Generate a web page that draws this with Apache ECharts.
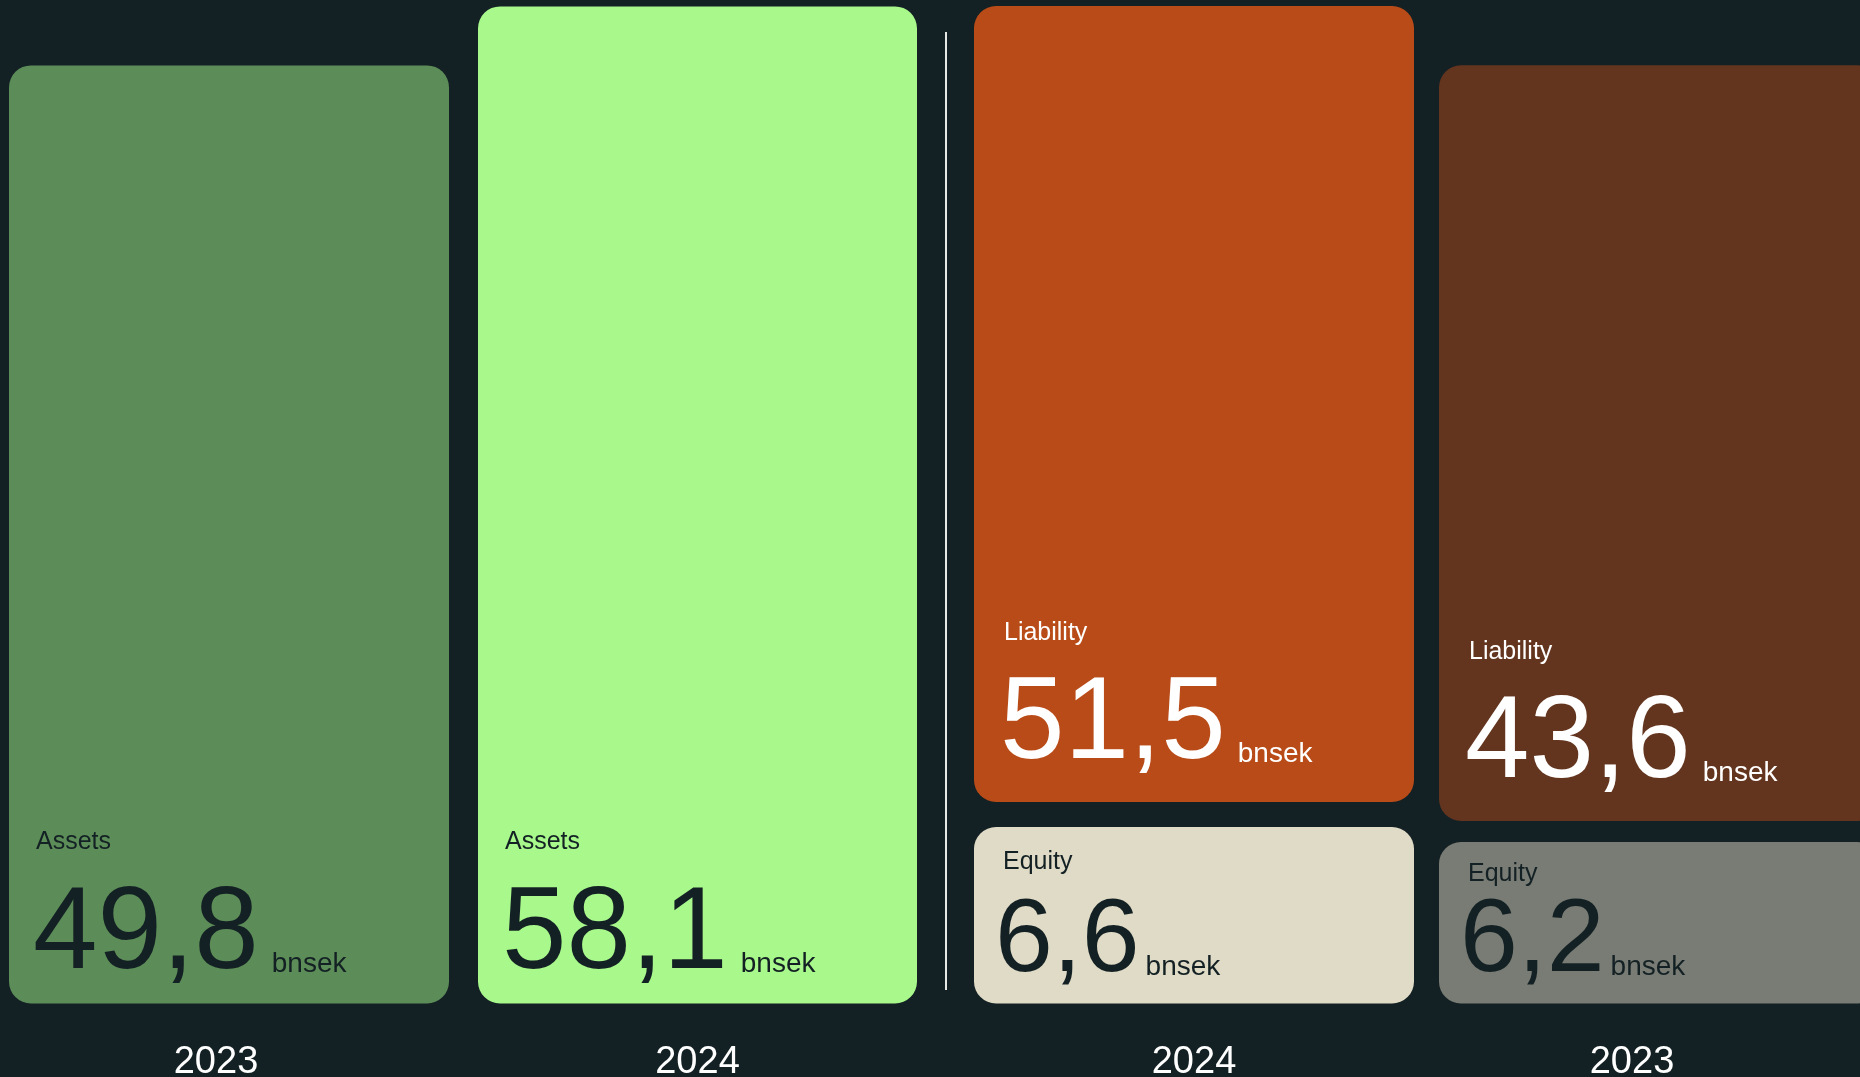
<!DOCTYPE html>
<html style="height: 100%">
<head>
    <meta charset="utf-8">
    <title>Assets, liability and equity</title>
    <style type="text/css">
        html, body { margin: 0; height: 100%; background-color: #142124; }
        #container { width: 1860px; height: 1077px; }
    </style>
</head>
<body>
<div id="container"></div>
<script type="text/javascript" src="https://cdn.jsdelivr.net/npm/echarts@6/dist/echarts.min.js"></script>
<script type="text/javascript">
    // data (bnsek), index 0 = 2023, index 1 = 2024
    var years = ['2023', '2024'];
    var assets = [49.8, 58.1];
    var liability = [43.6, 51.5];
    var equity = [6.2, 6.6];
    var unit = 'bnsek';

    var FONT = '"Liberation Sans", Arial, sans-serif';
    var DARK = '#142124';

    function fmt(v) {
        return v.toFixed(1).replace('.', ',');
    }

    // title on line 1, big value + unit on line 2
    function makeLabel(title, color, vSize, tPad, uPad, offset) {
        return {
            show: true,
            position: 'insideBottomLeft',
            distance: 0,
            offset: offset,
            formatter: function (p) {
                return '{t|' + title + '}\n{v|' + fmt(p.value) + '}{u|' + unit + '}';
            },
            rich: {
                t: { fontSize: 25, color: color, fontFamily: FONT, verticalAlign: 'bottom', padding: tPad },
                v: { fontSize: vSize, color: color, fontFamily: FONT, verticalAlign: 'bottom' },
                u: { fontSize: 28, color: color, fontFamily: FONT, verticalAlign: 'bottom', padding: uPad }
            }
        };
    }

    // one column per grid: assets 2023, assets 2024 | liability 2024, liability 2023, equity 2024, equity 2023
    var grids = [
        { left: 9, top: 0, width: 440, bottom: 73.5 },
        { left: 478, top: 0, width: 439, bottom: 73.5 },
        { left: 974, top: 0, width: 440, bottom: 275 },
        { left: 1439, top: 0, width: 440, bottom: 256 },
        { left: 974, top: 800, width: 440, bottom: 73.5 },
        { left: 1439, top: 800, width: 440, bottom: 73.5 }
    ];
    grids.forEach(function (g) { g.outerBoundsMode = 'none'; });

    var cols = [
        { year: 0, values: assets, color: '#5c8d58', label: makeLabel('Assets', DARK, 116, [0, 0, 24, 3], [0, 0, 16, 13], [24, -9]), yMin: -82.2, yMax: 59, showYear: true, pad: 26 },
        { year: 1, values: assets, color: '#a8f88c', label: makeLabel('Assets', DARK, 116, [0, 0, 24, 3], [0, 0, 16, 13], [24, -9]), yMin: -82.2, yMax: 59, showYear: true, pad: 0 },
        { year: 1, values: liability, color: '#b84b17', label: makeLabel('Liability', '#ffffff', 116, [0, 0, 22, 4], [0, 0, 16, 12], [26, -18]), yMin: -105.7, yMax: 52.7, showYear: false, pad: 0 },
        { year: 0, values: liability, color: '#63341e', label: makeLabel('Liability', '#ffffff', 116, [0, 0, 22, 4], [0, 0, 16, 12], [26, -18]), yMin: -105.7, yMax: 56.5, showYear: false, pad: 0 },
        { year: 1, values: equity, color: '#e0dbc6', label: makeLabel('Equity', DARK, 104, [0, 0, 16, 8], [0, 0, 13, 6], [21, -9]), yMin: 1.89, yMax: 7.32, showYear: true, pad: 0 },
        { year: 0, values: equity, color: '#797c74', label: makeLabel('Equity', DARK, 104, [0, 0, 4, 8], [0, 0, 13, 6], [21, -9]), yMin: 1.89, yMax: 7.32, showYear: true, pad: 54 }
    ];

    var xAxes = [], yAxes = [], series = [];
    cols.forEach(function (c, i) {
        xAxes.push({
            type: 'category',
            gridIndex: i,
            data: [years[c.year]],
            axisLine: { show: false },
            axisTick: { show: false },
            axisLabel: {
                show: c.showYear,
                margin: 40,
                fontSize: 38,
                color: '#ffffff',
                fontFamily: FONT,
                padding: [0, c.pad, 0, 0]
            }
        });
        yAxes.push({
            type: 'value',
            gridIndex: i,
            min: c.yMin,
            max: c.yMax,
            startValue: c.yMin,
            show: false
        });
        series.push({
            type: 'bar',
            xAxisIndex: i,
            yAxisIndex: i,
            barWidth: '100%',
            data: [c.values[c.year]],
            itemStyle: { color: c.color, borderRadius: 22 },
            label: c.label,
            silent: true
        });
    });

    var myChart = echarts.init(document.getElementById('container'));
    var option = {
        backgroundColor: '#142124',
        animation: false,
        grid: grids,
        xAxis: xAxes,
        yAxis: yAxes,
        series: series,
        graphic: [{
            type: 'line',
            shape: { x1: 946, y1: 32, x2: 946, y2: 990 },
            style: { stroke: '#e6e8e6', lineWidth: 2 }
        }]
    };
    myChart.setOption(option);
</script>
</body>
</html>
